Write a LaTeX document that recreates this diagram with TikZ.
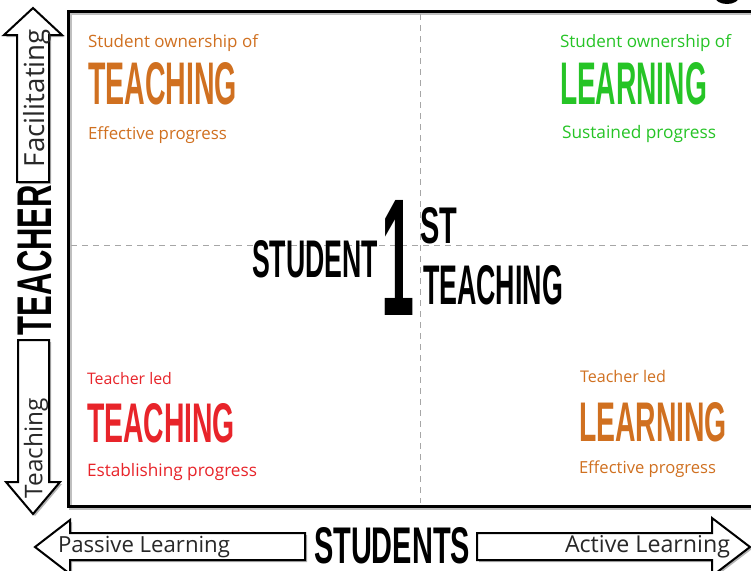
\documentclass[tikz,border=0pt]{standalone}
\usepackage{fontspec}
\usepackage{graphicx}
\setmainfont{Open Sans}
\newfontfamily\grunge{Liberation Sans}
\definecolor{qorange}{RGB}{208,112,32}
\definecolor{qgreen}{RGB}{38,196,38}
\definecolor{qred}{RGB}{232,36,42}
\definecolor{qink}{RGB}{40,40,40}
\newcommand\bw[3]{\resizebox{#1pt}{#2pt}{\grunge\bfseries #3}}
\newcommand\hw[2]{\resizebox{#1pt}{!}{#2}}
\begin{document}
\begin{tikzpicture}[x=1pt,y=-1pt,
  every node/.style={inner sep=0pt,outer sep=0pt},
  txt/.style={anchor=base west},
  arrowshape/.style={draw=black,line width=2pt,fill=white,line join=miter},
  shadowshape/.style={fill=black!30,draw=none},
  guide/.style={draw=black!35,line width=1pt,dash pattern=on 6pt off 5pt}]
\useasboundingbox (0,0) rectangle (751,570);
\clip (0,0) rectangle (751,570);
\fill[white] (0,0) rectangle (751,570);

% blob at top right
\fill[black] (727,-3) ellipse (12 and 7);

% main box
\draw[black!25,line width=3pt] (70,13) rectangle (772,508);
\draw[black,line width=3pt] (68,11) rectangle (770,506);

% dashed guides
\draw[guide] (420,14) -- (420,503);
\draw[guide] (71,245) -- (751,245);

% arrows (with soft shadows)
\foreach \dx/\st in {2/shadowshape,0/arrowshape}{
  \path[\st,shift={(\dx,\dx)}] (33,8) -- (62,35) -- (49,35) -- (49,182) -- (17,182) -- (17,35) -- (4,35) -- cycle;
  \path[\st,shift={(\dx,\dx)}] (18,340) -- (49,340) -- (49,482) -- (60,482) -- (33,514) -- (6,482) -- (18,482) -- cycle;
  \path[\st,shift={(\dx,\dx)}] (35,547) -- (70,520) -- (70,533) -- (305,533) -- (305,560) -- (70,560) -- (70,574) -- cycle;
  \path[\st,shift={(\dx,\dx)}] (477,533) -- (712,533) -- (712,518) -- (750,547) -- (712,576) -- (712,560) -- (477,560) -- cycle;
}

% axis labels
\node[rotate=90] (teacher) at (35,260) {\bw{150}{34}{TEACHER}};
\node[rotate=90,text=qink] (facil) at (37,98) {\hw{138}{Facilitating}};
\node[rotate=90,text=qink] (teachingax) at (36,448) {\hw{100}{Teaching}};
\node[txt] (students) at (314,563) {\bw{156}{36}{STUDENTS}};
\node[anchor=west,text=qink] (passive) at (58,547) {\hw{172}{Passive Learning}};
\node[anchor=west,text=qink] (active) at (565,547) {\hw{165}{Active Learning}};

% top-left quadrant
\node[txt,text=qorange] (tl1) at (88,47) {\hw{170}{Student ownership of}};
\node[txt,text=qorange] (tl2) at (88,104) {\bw{149}{42}{TEACHING}};
\node[txt,text=qorange] (tl3) at (88,139) {\hw{139}{Effective progress}};

% top-right quadrant
\node[txt,text=qgreen] (tr1) at (560,47) {\hw{171}{Student ownership of}};
\node[txt,text=qgreen] (tr2) at (560,104) {\bw{147}{42}{LEARNING}};
\node[txt,text=qgreen] (tr3) at (562,138) {\hw{154}{Sustained progress}};

% bottom-left quadrant
\node[txt,text=qred] (bl1) at (87,384) {\hw{85}{Teacher led}};
\node[txt,text=qred] (bl2) at (87,442) {\bw{148}{39}{TEACHING}};
\node[txt,text=qred] (bl3) at (87,476) {\hw{170}{Establishing progress}};

% bottom-right quadrant
\node[txt,text=qorange] (br1) at (580,382) {\hw{86}{Teacher led}};
\node[txt,text=qorange] (br2) at (579,441) {\bw{148}{39}{LEARNING}};
\node[txt,text=qorange] (br3) at (579,473) {\hw{137}{Effective progress}};

% centre title
\node[txt] (cstudent) at (252,277) {\bw{126}{37}{STUDENT}};
\node[txt] (cone) at (381,315) {\bw{33}{115}{1}};
\node[txt] (cst) at (420,243) {\bw{37}{36}{ST}};
\node[txt] (cteaching) at (423,304) {\bw{140}{39}{TEACHING}};
\end{tikzpicture}
\end{document}
